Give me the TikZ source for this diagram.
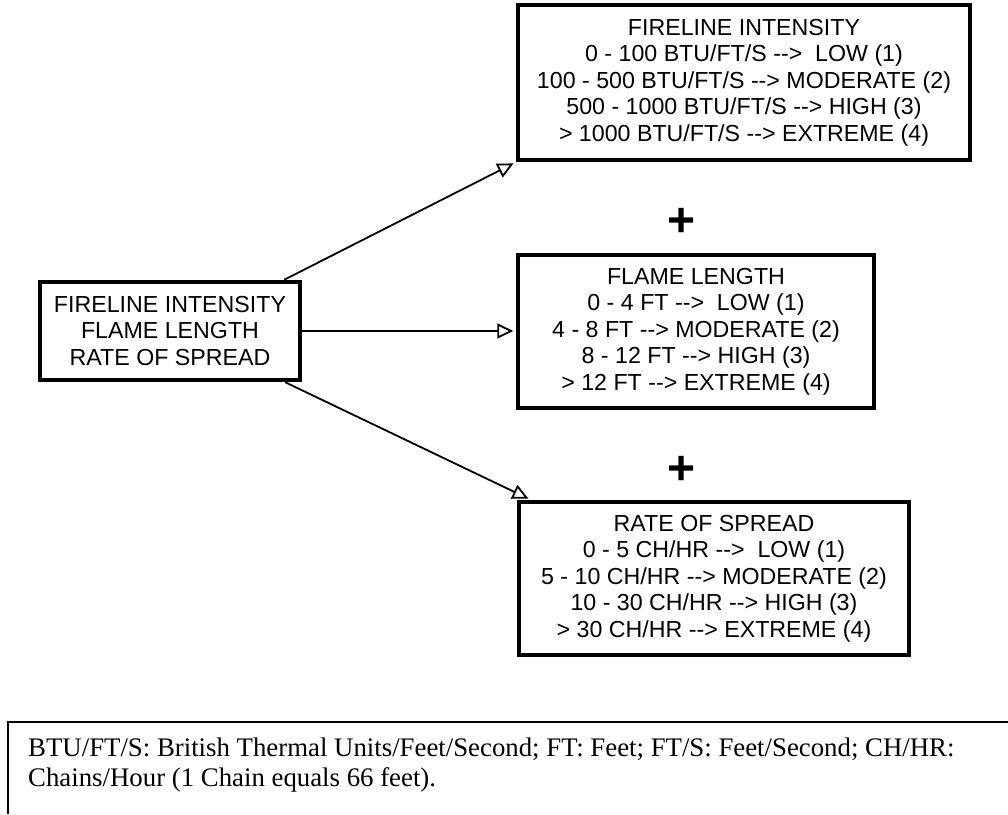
\documentclass[tikz,border=0pt]{standalone}
\usepackage{fontspec}
\setmainfont{Liberation Sans}
\newfontfamily\notefont{Liberation Serif}
\usetikzlibrary{arrows.meta}
\usetikzlibrary{positioning}

\tikzset{
    classbox/.style={draw, line width=4.5pt, align=center, inner sep=0pt,
        font=\fontsize{23.2}{26.6}\selectfont},
    feed/.style={line width=1.8pt, shorten >=2.5pt,
        -{Triangle[open, length=16pt, width=15pt, line width=1.8pt]}},
    plussign/.style={inner sep=0pt, font=\fontsize{48}{48}\selectfont\bfseries}
}

\begin{document}
\begin{tikzpicture}[x=1pt,y=-1pt]
    \useasboundingbox (0,0) rectangle (1008,814);

    \node[classbox, minimum width=260pt, minimum height=98pt] (src) at (170,331)
        {FIRELINE INTENSITY\\FLAME LENGTH\\RATE OF SPREAD};

    \node[classbox, minimum width=452pt, minimum height=155pt] (fli) at (744,82.5)
        {FIRELINE INTENSITY\\0 - 100 BTU/FT/S -{}->\ \ LOW (1)\\100 - 500 BTU/FT/S -{}-> MODERATE (2)\\500 - 1000 BTU/FT/S -{}-> HIGH (3)\\> 1000 BTU/FT/S -{}-> EXTREME (4)};
    \node[classbox, minimum width=356pt, minimum height=153pt] (fl) at (696,331.5)
        {FLAME LENGTH\\0 - 4 FT -{}->\ \ LOW (1)\\4 - 8 FT -{}-> MODERATE (2)\\8 - 12 FT -{}-> HIGH (3)\\> 12 FT -{}-> EXTREME (4)};
    \node[classbox, minimum width=390pt, minimum height=153pt] (ros) at (714,578.5)
        {RATE OF SPREAD\\0 - 5 CH/HR -{}->\ \ LOW (1)\\5 - 10 CH/HR -{}-> MODERATE (2)\\10 - 30 CH/HR -{}-> HIGH (3)\\> 30 CH/HR -{}-> EXTREME (4)};

    \node[plussign] (plusa) at (682,222) {+};
    \node[plussign] (plusb) at (682,470) {+};

    \draw[feed] ([xshift=-18pt]src.north east) -- (fli.south west);
    \draw[feed] (src.east) -- (src.east -| fl.west);
    \draw[feed] ([xshift=-17pt]src.south east) -- ([xshift=14pt]ros.north west);

    % key to the units
    \draw[line width=1.5pt] (1008,722) -- (8,722) -- (8,814);
    \node[anchor=north west, align=left, inner sep=0pt,
        font=\notefont\fontsize{26.8}{30}\selectfont] (units) at (28,738)
        {BTU/FT/S: British Thermal Units/Feet/Second; FT: Feet; FT/S: Feet/Second; CH/HR:\\Chains/Hour (1 Chain equals 66 feet).};
\end{tikzpicture}
\end{document}
